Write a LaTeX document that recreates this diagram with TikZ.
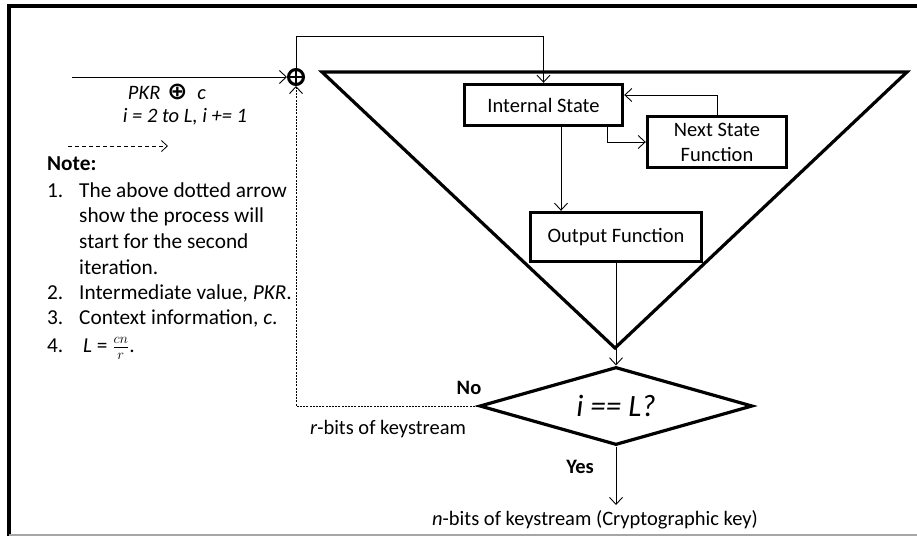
\documentclass[tikz,border=0pt]{standalone}
\usepackage{fontspec}
\setmainfont{Carlito}
\newfontfamily\dvfont{DejaVu Sans}
\usetikzlibrary{arrows.meta,shapes.geometric}
\begin{document}
\begin{tikzpicture}[x=1pt,y=-1pt,
  every node/.style={font=\fontsize{20.5}{25}\selectfont, inner sep=0pt},
  arr/.style={-{Straight Barb[length=7pt,width=13pt]}, line width=0.9pt},
  blk/.style={draw, fill=white, line width=3.4pt, align=center},
  txt/.style={anchor=base west, font=\fontsize{21.3}{25}\selectfont},
  frameline/.style={line width=3.4pt, black}
]
\useasboundingbox (0,0) rectangle (917,536);
% frame
\draw[frameline] (917,6) -- (9,6) -- (9,536);
\draw[gray!70, line width=2pt] (9,535) -- (917,535);

% triangle
\coordinate (tl) at (322,72);
\coordinate (tr) at (907,72);
\coordinate (ap) at (615,348);
\draw[line width=3.2pt, line join=miter] (tl) -- (tr) -- (ap) -- cycle;

% boxes
\node[blk, minimum width=158, minimum height=41] (IS) at (543.5,105) {Internal State};
\node[blk, minimum width=139, minimum height=51] (NS) at (717,142) {Next State\\Function};
\node[blk, minimum width=171, minimum height=49] (OF) at (616,237) {Output Function};
\node[diamond, draw, fill=white, line width=3.2pt, aspect=3.5, minimum width=273, minimum height=78,
      font=\fontsize{31}{36}\selectfont\itshape] (dec) at (616,406) {i == L?};

% xor
\node[circle, draw, line width=3pt, minimum size=15, inner sep=0pt] (xor) at (296,77) {};
\draw[line width=2.8pt] (xor.north) -- (xor.south) (xor.west) -- (xor.east);

% connectors
\coordinate (top) at (0,36);
\coordinate (in) at (72,77);
\coordinate (out) at (616,505);
\draw[arr] (in) -- (xor.west);
\draw[arr] (xor.north) |- (IS.north |- top) -- (IS.north);
\draw[arr] ([xshift=17.5pt]IS.south) -- ([xshift=17.5pt]IS.south |- OF.north);
\draw[arr] ([xshift=63.5pt]IS.south) |- (NS.west);
\draw[arr] (NS.north) |- ([yshift=10pt]IS.east);
\draw[arr] (OF.south) -- (dec.north);
\draw[arr] (dec.south) -- (out);
\draw[arr, dash pattern=on 2pt off 1.2pt] (dec.west) -| (xor.south);

% left texts
\node[font=\fontsize{20.5}{25}\selectfont\itshape] (pkr) at (167,92) {PKR\hspace{7pt}{\dvfont\bfseries\upshape\fontsize{24}{24}\selectfont ⊕}\hspace{10pt}c};
\node[font=\fontsize{20.5}{25}\selectfont\itshape] (iter) at (185,117) {i = 2 to L, i += 1};
\coordinate (ds) at (68,146);
\coordinate (de) at (168,146);
\draw[-{Straight Barb[length=6pt,width=11pt]}, line width=0.8pt, dash pattern=on 4pt off 3pt] (ds) -- (de);

\node[txt, font=\fontsize{21.3}{25}\selectfont\bfseries] (note) at (47,170) {Note:};
\node[txt] (n1) at (47,197) {1.};
\node[txt] (t1) at (79,197) {The above dotted arrow};
\node[txt] (t1b) at (79,222) {show the process will};
\node[txt] (t1c) at (79,248) {start for the second};
\node[txt] (t1d) at (79,274) {iteration.};
\node[txt] (n2) at (47,299) {2.};
\node[txt] (t2) at (79,299) {Intermediate value, \textit{PKR}.};
\node[txt] (n3) at (47,324) {3.};
\node[txt] (t3) at (79,324) {Context information, \textit{c}.};
\node[txt] (n4) at (47,352) {4.};
\node[txt] (t4) at (83,352) {\textit{L} = $\frac{cn}{r}$.};

% labels
\node[font=\fontsize{20.5}{25}\selectfont\bfseries] (no) at (469,388) {No};
\node (rbits) at (388,429) {\textit{r}-bits of keystream};
\node[font=\fontsize{20.5}{25}\selectfont\bfseries] (yes) at (580,467) {Yes};
\node (nbits) at (595,520) {\textit{n}-bits of keystream (Cryptographic key)};
\end{tikzpicture}
\end{document}
